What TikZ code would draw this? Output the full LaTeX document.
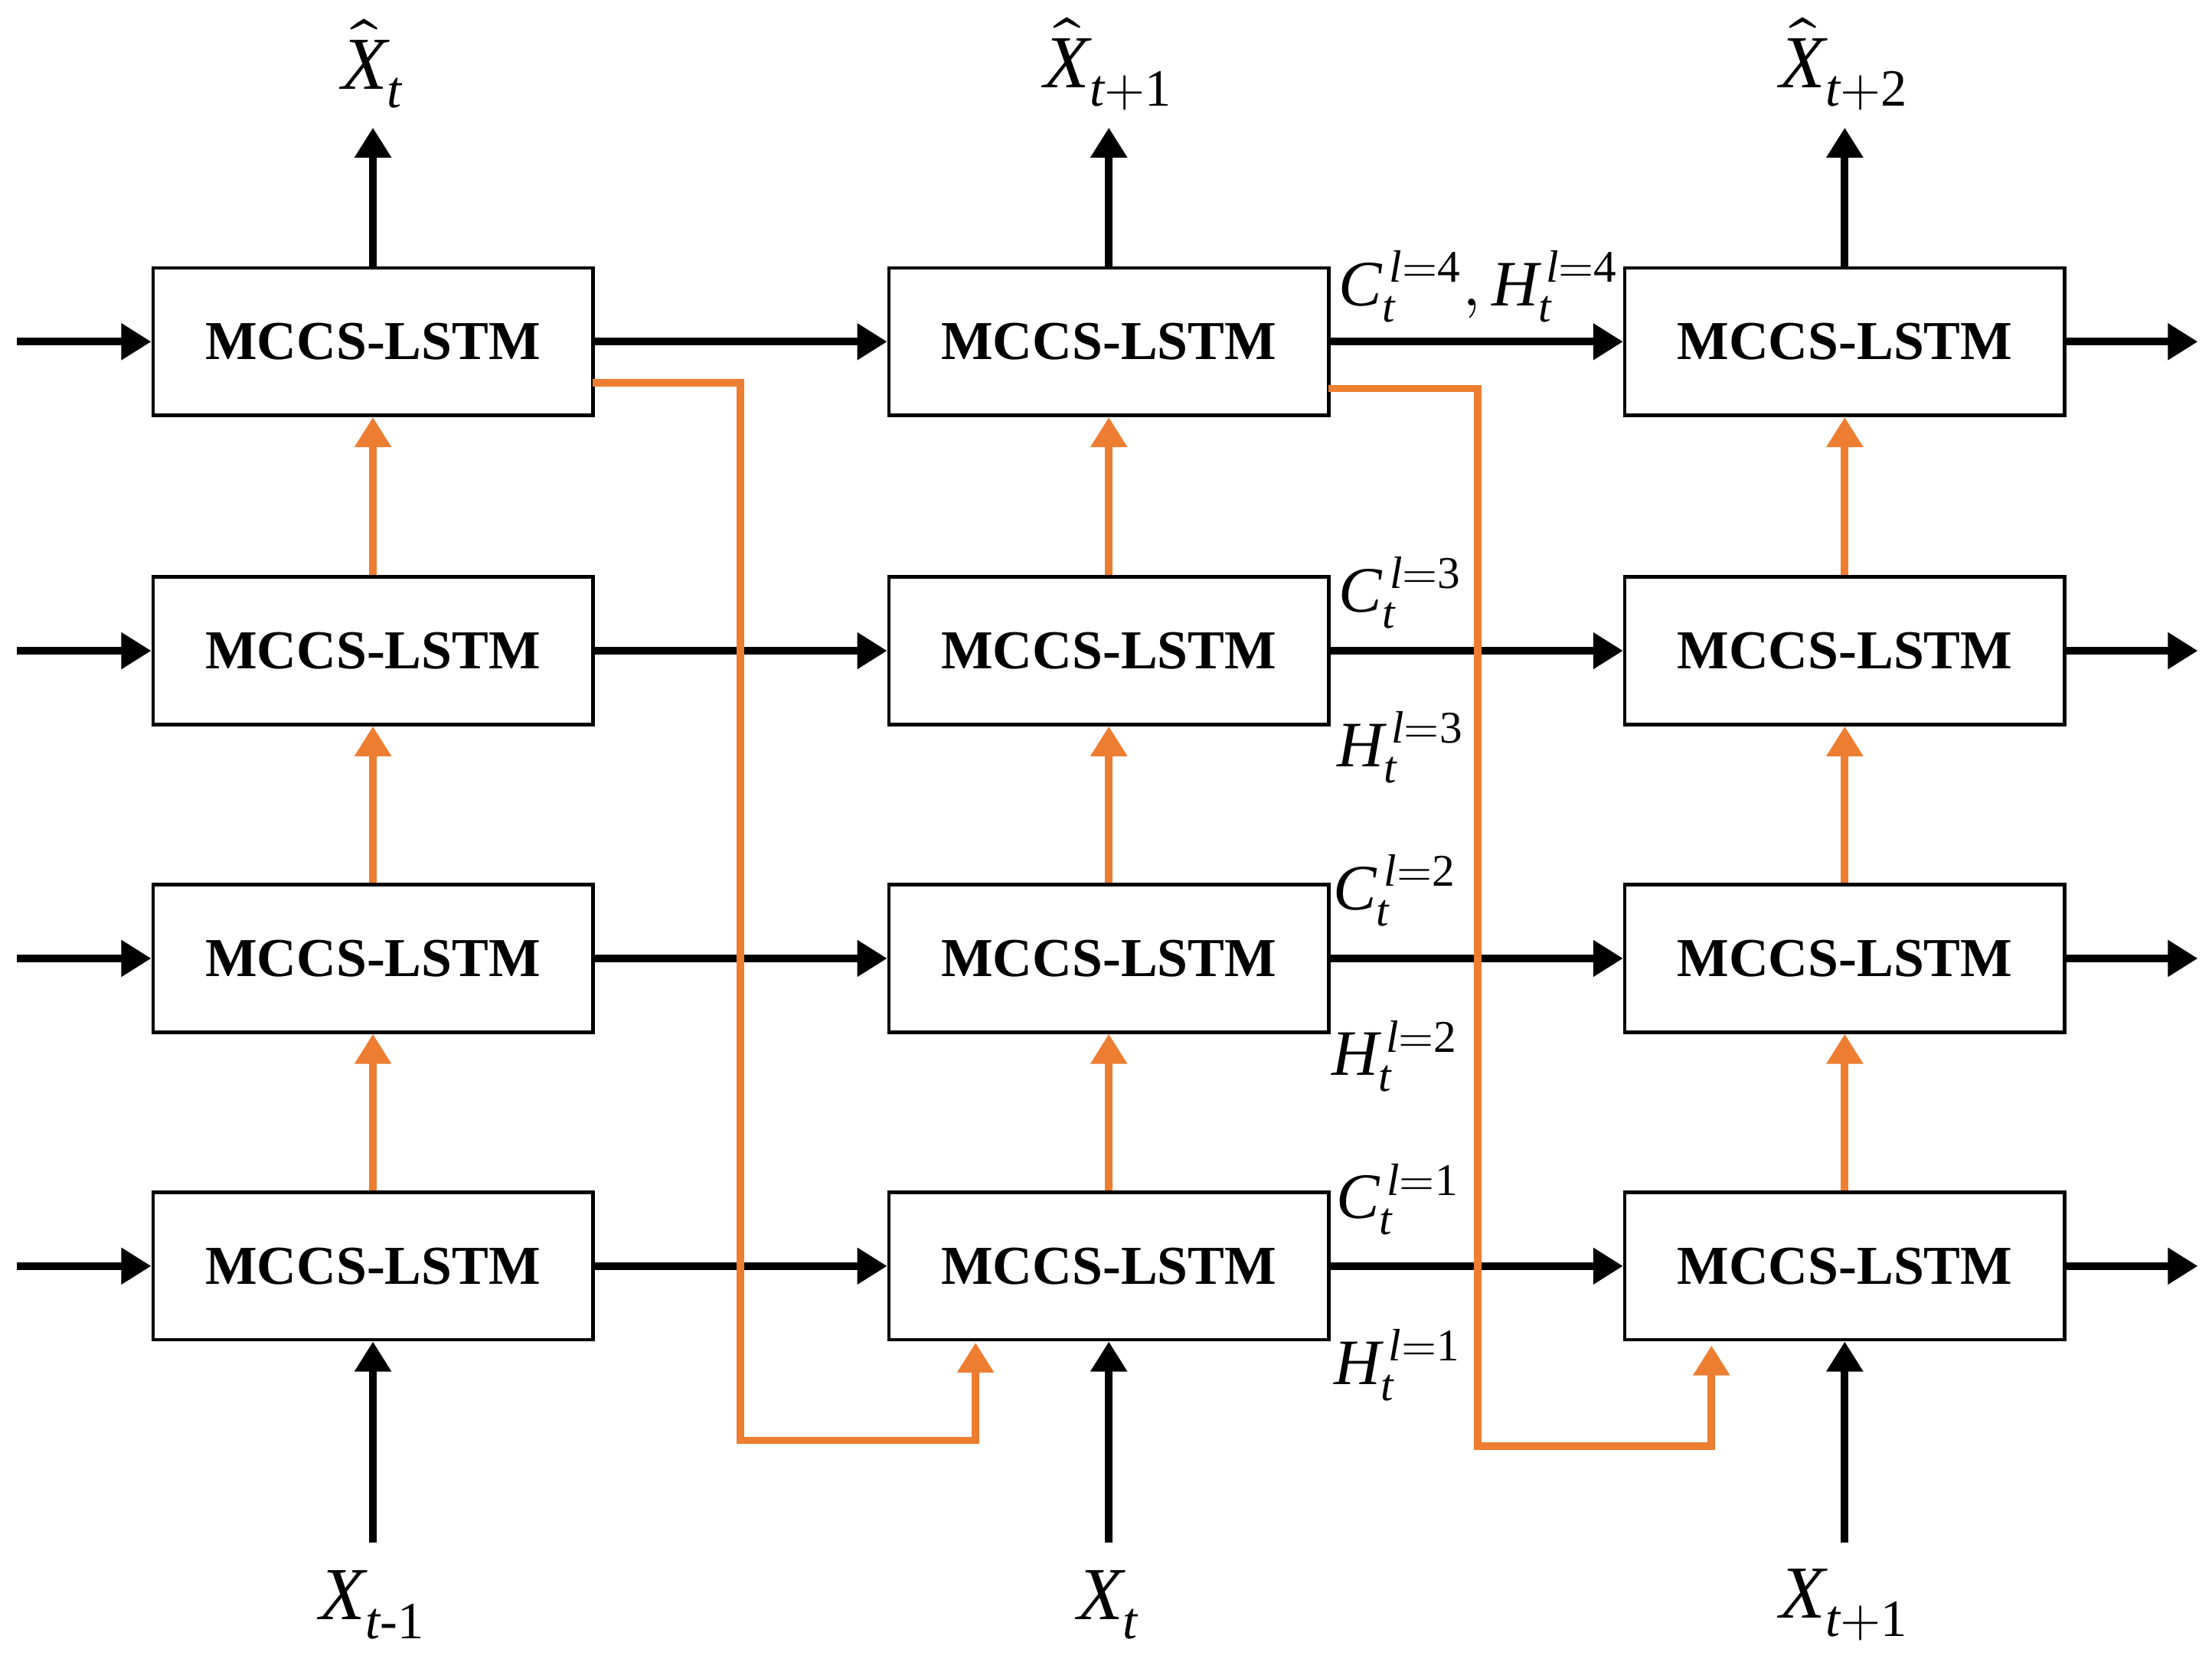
\documentclass[tikz,border=0pt]{standalone}
\usepackage{fontspec}
\setmainfont{Liberation Serif}
\usepackage{unicode-math}
\setmathfont{Latin Modern Math}
\setmathfont[range=it/{latin,Latin}]{Liberation Serif Italic}
\setmathfont[range=up/{num}]{Liberation Serif}
\usetikzlibrary{arrows.meta}
\tikzset{
  cell/.style={draw, line width=0.7pt, minimum width=3.1cm, minimum height=1.04cm, font=\fontsize{11}{13}\selectfont\bfseries},
  flow/.style={-{Triangle[length=6pt,width=7pt]}, line width=1.5pt},
  skip/.style={-{Triangle[length=6pt,width=7pt]}, line width=1.5pt, draw={rgb,255:red,237;green,125;blue,49}},
  lab/.style={font=\fontsize{15}{17}\selectfont},
  slab/.style={font=\fontsize{13}{15}\selectfont}
}
\begin{document}
\begin{tikzpicture}[x=0.01cm,y=-0.01cm]
\useasboundingbox (0,0) rectangle (1560,1172);

% cells
\foreach \c/\x in {1/263,2/782,3/1301}
  \foreach \r/\y in {4/241,3/459,2/676,1/893}
    \node[cell] (m\c\r) at (\x,\y) {MCCS-LSTM};

% horizontal state flow
\foreach \r in {1,...,4}{
  \coordinate (in\r) at (12,0 |- m1\r);
  \coordinate (out\r) at (1550,0 |- m3\r);
  \draw[flow] (in\r) -- (m1\r.west);
  \draw[flow] (m1\r) -- (m2\r);
  \draw[flow] (m2\r) -- (m3\r);
  \draw[flow] (m3\r.east) -- (out\r);
}

% layer to layer
\foreach \c in {1,2,3}{
  \draw[skip] (m\c1) -- (m\c2);
  \draw[skip] (m\c2) -- (m\c3);
  \draw[skip] (m\c3) -- (m\c4);
}

% inputs and outputs
\foreach \c/\i/\o in {1/{t\text{-}1}/t,2/t/{t+1},3/{t+1}/{t+2}}{
  \node[lab] (x\c) at (m\c1 |- 0,1132) {$X_{\i}$};
  \node[lab] (y\c) at (m\c4 |- 0,45) {$\hat{X}_{\o}$};
  \coordinate (xi\c) at (m\c1 |- 0,1088);
  \coordinate (yo\c) at (m\c4 |- 0,90);
  \draw[flow] (xi\c) -- (m\c1.south);
  \draw[flow] (m\c4.north) -- (yo\c);
}

% skip connections
\coordinate (s1) at (522,270);
\coordinate (s2) at (522,1016);
\coordinate (s3) at (688,1016);
\coordinate (s4) at (688,947);
\draw[skip] (418,270) -- (s1) -- (s2) -- (s3) -- (s4);
\coordinate (t1) at (1042,274);
\coordinate (t2) at (1042,1020);
\coordinate (t3) at (1207,1020);
\coordinate (t4) at (1207,949);
\draw[skip] (937,274) -- (t1) -- (t2) -- (t3) -- (t4);

% state labels
\node[slab] (c4) at (1043,202) {$C_t^{\,l=4},H_t^{\,l=4}$};
\node[slab] (c3) at (988,418) {$C_t^{\,l=3}$};
\node[slab] (h3) at (988,527) {$H_t^{\,l=3}$};
\node[slab] (c2) at (984,628) {$C_t^{\,l=2}$};
\node[slab] (h2) at (984,745) {$H_t^{\,l=2}$};
\node[slab] (c1) at (986,846) {$C_t^{\,l=1}$};
\node[slab] (h1) at (986,963) {$H_t^{\,l=1}$};
\end{tikzpicture}
\end{document}
